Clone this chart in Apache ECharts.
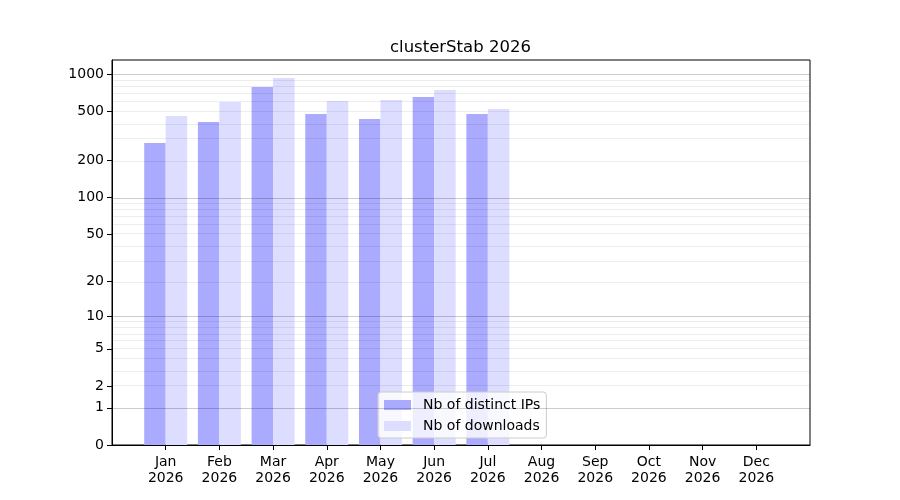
<!DOCTYPE html>
<html>
<head>
<meta charset="utf-8">
<title>clusterStab 2026</title>
<script src="https://cdn.jsdelivr.net/npm/echarts@6/dist/echarts.min.js"></script>
<style>
  html, body { margin: 0; padding: 0; background: #fff; }
  #chart { width: 900px; height: 500px; }
</style>
</head>
<body>
<div id="chart"></div>
<script type="text/javascript">
  // months, padded with an empty slot on each side (matplotlib xlim 0..13)
  var months = ['', 'Jan\n2026', 'Feb\n2026', 'Mar\n2026', 'Apr\n2026', 'May\n2026', 'Jun\n2026',
                'Jul\n2026', 'Aug\n2026', 'Sep\n2026', 'Oct\n2026', 'Nov\n2026', 'Dec\n2026', ''];
  var distinctIps = [null, 277, 411, 790, 477, 434, 655, 477, null, null, null, null, null, null];
  var downloads   = [null, 459, 596, 933, 608, 619, 746, 523, null, null, null, null, null, null];

  // y scale is log10(v + 1)
  var yTicks = [0, 1, 2, 5, 10, 20, 50, 100, 200, 500, 1000];
  var majorGrid = [1, 10, 100, 1000];
  var minorGrid = [2, 3, 4, 5, 6, 7, 8, 9, 20, 30, 40, 50, 60, 70, 80, 90,
                   200, 300, 400, 500, 600, 700, 800, 900];

  function tr(v) { return v == null ? null : Math.log10(v + 1); }

  var gridLines = [];
  minorGrid.forEach(function (v) {
    gridLines.push({ yAxis: tr(v), lineStyle: { color: 'rgba(0,0,0,0.07)', width: 1, type: 'solid' } });
  });
  majorGrid.forEach(function (v) {
    gridLines.push({ yAxis: tr(v), lineStyle: { color: 'rgba(0,0,0,0.2)', width: 1, type: 'solid' } });
  });

  var myChart = echarts.init(document.getElementById('chart'));
  var font = 'DejaVu Sans';
  var option = {
    animation: false,
    title: {
      text: 'clusterStab 2026',
      left: 385,
      top: 34,
      textStyle: { fontFamily: font, fontSize: 16.5, fontWeight: 'normal', color: '#000' }
    },
    grid: {
      left: 112, right: 90, top: 60, bottom: 55,
      show: true, borderColor: '#000', borderWidth: 1, backgroundColor: 'transparent'
    },
    legend: {
      orient: 'vertical',
      left: 378,
      top: 392,
      padding: [5, 6, 4, 6],
      itemWidth: 27,
      itemHeight: 10,
      itemGap: 5,
      icon: 'rect',
      backgroundColor: 'rgba(255,255,255,0.8)',
      borderColor: '#cccccc',
      borderWidth: 1,
      borderRadius: 3,
      textStyle: { fontFamily: font, fontSize: 14, color: '#000', lineHeight: 16, padding: [0, 0, 0, 7] },
      data: ['Nb of distinct IPs', 'Nb of downloads']
    },
    xAxis: {
      type: 'category',
      data: months,
      boundaryGap: false,
      axisLine: { show: true, lineStyle: { color: '#000', width: 1 } },
      axisTick: {
        show: true, length: 5, inside: false,
        interval: function (i) { return i > 0 && i < months.length - 1; },
        lineStyle: { color: '#000' }
      },
      axisLabel: {
        interval: 0, margin: 9,
        fontFamily: font, fontSize: 14, color: '#000', lineHeight: 16
      },
      splitLine: { show: false }
    },
    yAxis: {
      type: 'value',
      min: 0,
      max: 3.116,
      axisLine: { show: true, lineStyle: { color: '#000', width: 1 } },
      axisTick: {
        show: true, length: 5, inside: false,
        customValues: yTicks.map(tr),
        lineStyle: { color: '#000' }
      },
      axisLabel: {
        customValues: yTicks.map(tr),
        margin: 8,
        fontFamily: font, fontSize: 14, color: '#000',
        formatter: function (v) { return String(Math.round(Math.pow(10, v) - 1)); }
      },
      splitLine: { show: false }
    },
    series: [
      {
        name: 'Nb of distinct IPs',
        type: 'bar',
        data: distinctIps.map(tr),
        barWidth: '40%',
        barGap: '0%',
        itemStyle: { color: '#aaaaff' }
      },
      {
        name: 'Nb of downloads',
        type: 'bar',
        data: downloads.map(tr),
        barWidth: '40%',
        barGap: '0%',
        itemStyle: { color: '#ddddff' },
        markLine: {
          silent: true,
          symbol: 'none',
          label: { show: false },
          animation: false,
          data: gridLines
        }
      }
    ]
  };
  myChart.setOption(option);
</script>
</body>
</html>
